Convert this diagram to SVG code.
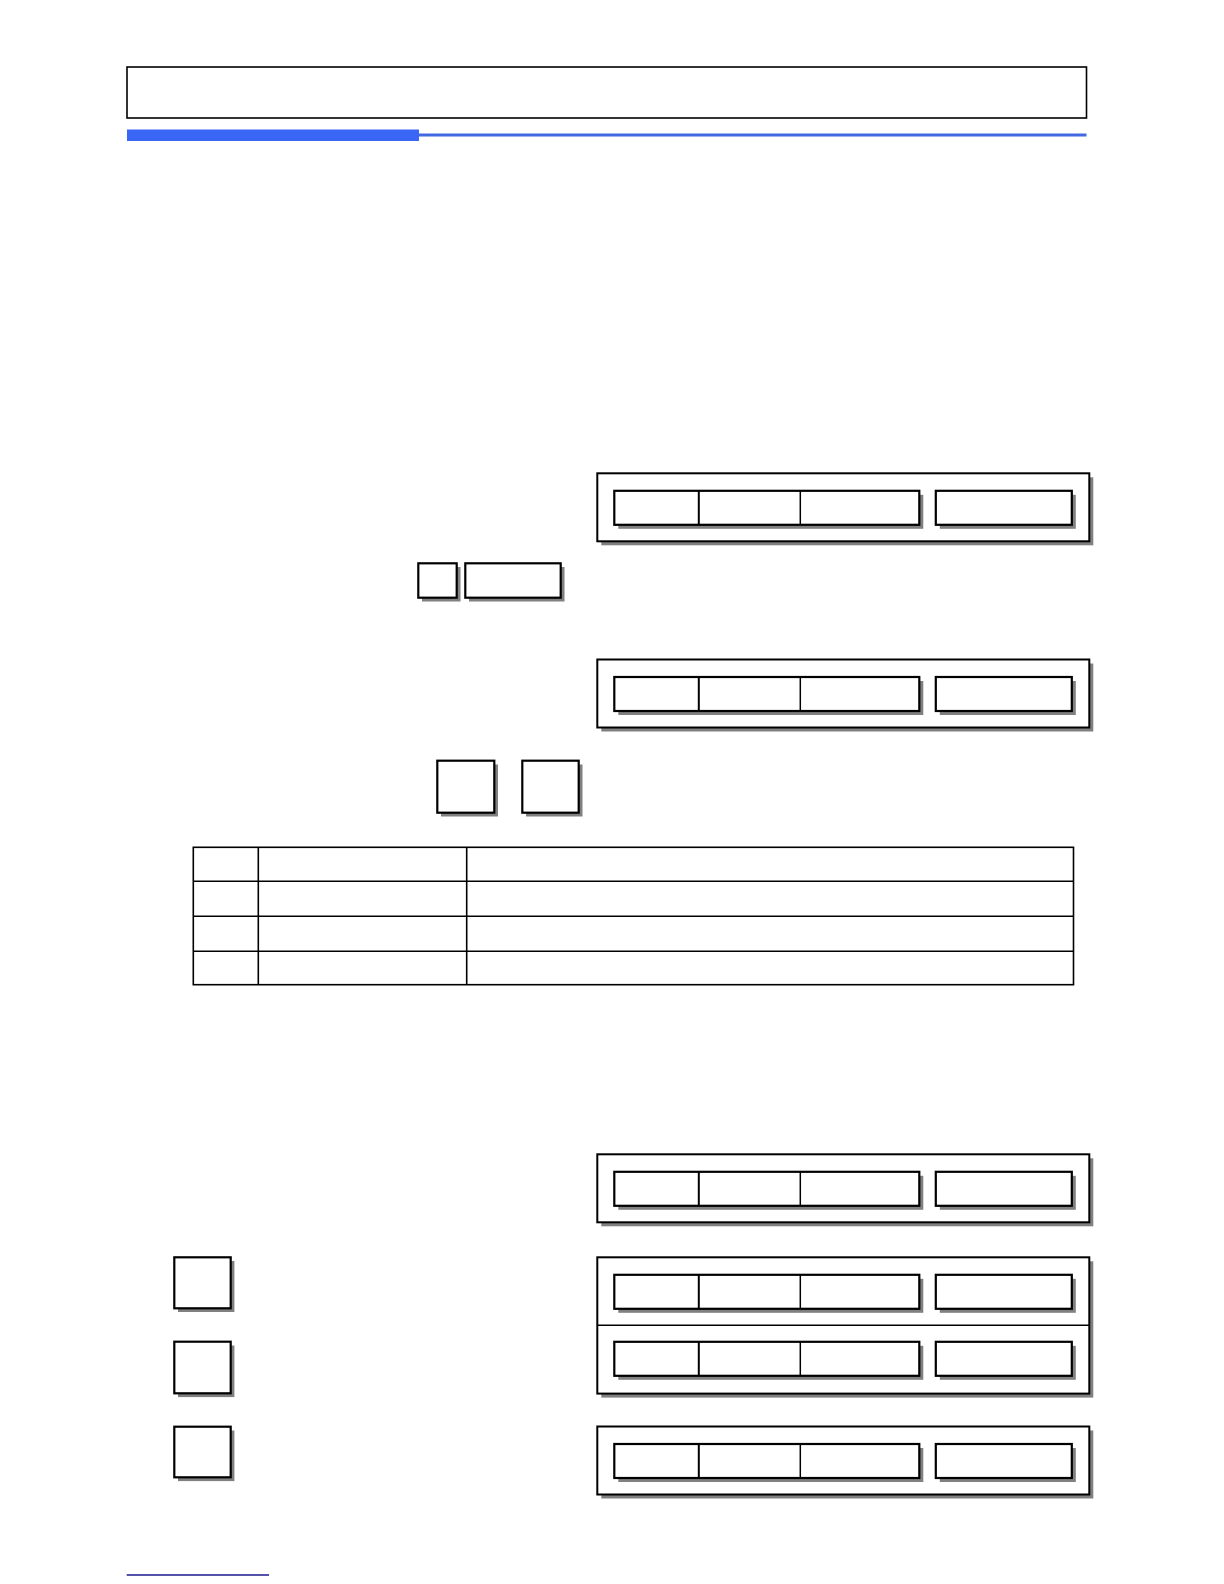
<svg xmlns="http://www.w3.org/2000/svg" xmlns:xlink="http://www.w3.org/1999/xlink" width="1224" height="1584" viewBox="0 0 1224 1584">
<style>
.sh{fill:#808080;stroke:none}
.bx{fill:#fff;stroke:#000;stroke-width:2}
.ib{fill:#fff;stroke:#000;stroke-width:2.2}
.dv{stroke:#000;stroke-width:1.5;fill:none}
.dv2{stroke:#000;stroke-width:2;fill:none}
.tb{fill:none;stroke:#000;stroke-width:1.6}
</style>
<defs>
<g id="row">
<rect class="sh" x="21" y="21.5" width="305" height="34"/>
<rect class="ib" x="17" y="17.5" width="305" height="34"/>
<line class="dv2" x1="101.5" y1="17.5" x2="101.5" y2="51.5"/>
<line class="dv" x1="203" y1="17.5" x2="203" y2="51.5"/>
<rect class="sh" x="342.5" y="21.5" width="136" height="34"/>
<rect class="ib" x="338.5" y="17.5" width="136" height="34"/>
</g>
<g id="disp">
<rect class="sh" x="4" y="4" width="492" height="68"/>
<rect class="bx" x="0" y="0" width="492" height="68"/>
<use xlink:href="#row"/>
</g>
</defs>

<g id="header">
<rect x="127" y="67" width="959.5" height="51" fill="#fff" stroke="#000" stroke-width="1.6"/>
<rect x="127" y="129.5" width="292" height="11.5" fill="#3a66f5"/>
<rect x="419" y="133.5" width="667.5" height="3" fill="#4169e1"/>
</g>

<g id="display1" transform="translate(597.3,473.3)"><use xlink:href="#disp"/></g>

<g id="keys1">
<rect class="sh" x="422" y="567" width="38.5" height="34.5"/>
<rect class="ib" x="418.3" y="563.3" width="38.4" height="34.4"/>
<rect class="sh" x="469" y="567" width="95.5" height="34.5"/>
<rect class="ib" x="465.3" y="563.3" width="95.4" height="34.4"/>
</g>

<g id="display2" transform="translate(597.3,659.5)"><use xlink:href="#disp"/></g>

<g id="keys2">
<rect class="sh" x="441" y="764.5" width="57" height="52"/>
<rect class="ib" x="437.3" y="760.7" width="57" height="52"/>
<rect class="sh" x="526" y="764.5" width="56.5" height="52"/>
<rect class="ib" x="522.3" y="760.7" width="56.4" height="52"/>
</g>

<g id="table">
<rect class="tb" x="193.3" y="847.3" width="880.2" height="137.4"/>
<line class="tb" x1="193.3" y1="881.3" x2="1073.5" y2="881.3"/>
<line class="tb" x1="193.3" y1="916.3" x2="1073.5" y2="916.3"/>
<line class="tb" x1="193.3" y1="951.3" x2="1073.5" y2="951.3"/>
<line class="tb" x1="258.3" y1="847.3" x2="258.3" y2="984.7"/>
<line class="tb" x1="466.7" y1="847.3" x2="466.7" y2="984.7"/>
</g>

<g id="display3" transform="translate(597.3,1154.3)"><use xlink:href="#disp"/></g>

<g id="display4" transform="translate(597.3,1257.3)">
<rect class="sh" x="4" y="4" width="492" height="136.3"/>
<rect class="bx" x="0" y="0" width="492" height="136.3"/>
<line class="dv" x1="0" y1="68" x2="492" y2="68"/>
<use xlink:href="#row"/>
<use xlink:href="#row" transform="translate(0,67)"/>
</g>

<g id="display5" transform="translate(597.3,1426.5)"><use xlink:href="#disp"/></g>

<g id="keys3">
<rect class="sh" x="178" y="1261" width="56.4" height="51"/>
<rect class="ib" x="174.3" y="1257.3" width="56.4" height="51"/>
<rect class="sh" x="178" y="1345.5" width="56.4" height="51.6"/>
<rect class="ib" x="174.3" y="1341.7" width="56.4" height="51.6"/>
<rect class="sh" x="178" y="1430.5" width="56.4" height="50.6"/>
<rect class="ib" x="174.3" y="1426.7" width="56.4" height="50.6"/>
</g>

<g id="footer">
<line x1="126.7" y1="1575" x2="269" y2="1575" stroke="#1a1a8c" stroke-width="1.6"/>
</g>
</svg>
